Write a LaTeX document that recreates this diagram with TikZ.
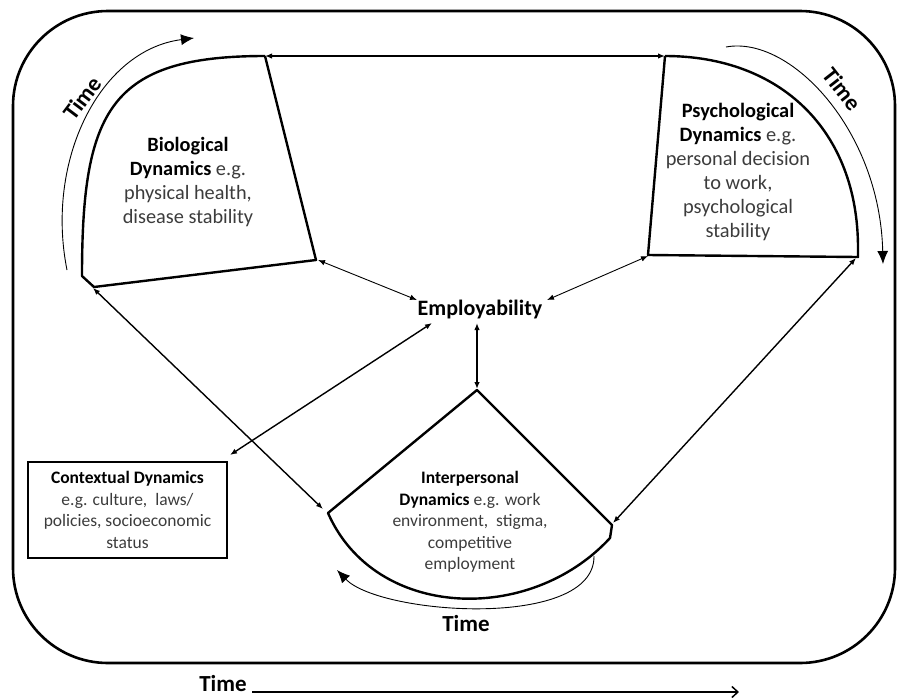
\documentclass[tikz,border=0pt]{standalone}
\usepackage{fontspec}
\setmainfont{Carlito}
\usetikzlibrary{arrows.meta}
\definecolor{txtgrey}{HTML}{3C3C3C}
\tikzset{
  region/.style={line width=2.4pt, line join=round},
  link/.style={line width=1.4pt, {Latex[length=7pt,width=5.5pt]}-{Latex[length=7pt,width=5.5pt]}},
  thinlink/.style={line width=0.9pt, {Latex[length=7pt,width=5.5pt]}-{Latex[length=7pt,width=5.5pt]}},
  timearc/.style={line width=0.9pt, -{Latex[length=13pt,width=11pt]}},
  lbl/.style={align=center, text=txtgrey, inner sep=0pt},
  timelbl/.style={font=\fontsize{23}{26}\selectfont\bfseries, inner sep=0pt},
}
\begin{document}
\begin{tikzpicture}[x=1pt,y=-1pt]
\useasboundingbox (0,0) rectangle (897,697);
% outer frame
\draw[line width=2.6pt, rounded corners=95pt] (13,11) rectangle (895,663);

% region corners
\coordinate (btr) at (265,56);
\coordinate (bbr) at (316,260);
\coordinate (bbl) at (94,287);
\coordinate (bk) at (82,276);
\coordinate (ptl) at (665,56);
\coordinate (pbl) at (648,255);
\coordinate (pbr) at (858,257);
\coordinate (pk) at (858,248);
\coordinate (itop) at (477,390);
\coordinate (ir) at (612,525);
\coordinate (ik) at (610,538);
\coordinate (il) at (328,513);

% regions
\draw[region] (btr) -- (bbr) -- (bbl) -- (bk) .. controls (82,110) and (110,56) .. (btr);
\draw[region] (ptl) -- (pbl) -- (pbr) -- (pk) .. controls (858,130) and (780,56) .. (ptl);
\draw[region] (itop) -- (ir) -- (ik) .. controls (530,625) and (375,620) .. (il) -- cycle;

% region texts
\node[lbl, font=\fontsize{20.3}{24}\selectfont] (bio) at (188,182)
  {\textcolor{black}{\bfseries Biological}\\\textcolor{black}{\bfseries Dynamics} e.g.\\physical health,\\disease stability};
\node[lbl, font=\fontsize{20.4}{24}\selectfont] (psy) at (738,172)
  {\textcolor{black}{\bfseries Psychological}\\\textcolor{black}{\bfseries Dynamics} e.g.\\personal decision\\to work,\\psychological\\stability};
\node[lbl, font=\fontsize{17.5}{21.5}\selectfont] (inter) at (470,522)
  {\textcolor{black}{\bfseries Interpersonal}\\\textcolor{black}{\bfseries Dynamics} e.g. work\\environment,\ \ stigma,\\competitive\\employment};
\node[draw, line width=1.8pt, minimum width=199pt, minimum height=96pt, lbl, font=\fontsize{17.5}{21.5}\selectfont] (ctx) at (127.5,510)
  {\textcolor{black}{\bfseries Contextual Dynamics}\\e.g. culture,\ \ laws/\\policies, socioeconomic\\status};
\node[font=\fontsize{22}{24}\selectfont\bfseries, inner sep=0pt] (emp) at (480,310) {Employability};

% connector end points near nodes
\coordinate (e1) at (417,300);
\coordinate (e2) at (547,300);
\coordinate (e3) at (477,323);
\coordinate (e4) at (432,323);
\coordinate (c1) at (230,455);
\coordinate (itip) at (477,389);
\coordinate (bt) at (318,260);
\coordinate (pt) at (648,256);
\coordinate (bl) at (93,288);
\coordinate (ilt) at (323,509);
\coordinate (prt) at (856,258);
\coordinate (irt) at (613,523);

% connectors
\draw[link] (btr) -- (ptl);
\draw[thinlink] (bt) -- (e1);
\draw[thinlink] (pt) -- (e2);
\draw[link] (e3) -- (itip);
\draw[link] (c1) -- (e4);
\draw[link] (bl) -- (ilt);
\draw[link] (prt) -- (irt);

% time arcs
\coordinate (ta1) at (67,270);
\coordinate (ta2) at (194,38);
\draw[timearc] (ta1) .. controls (45,160) and (100,50) .. (ta2);
\node[timelbl, rotate=53] (t1) at (82,98) {Time};

\coordinate (tb1) at (726,47);
\coordinate (tb2) at (883,264);
\draw[timearc] (tb1) .. controls (790,35) and (880,130) .. (tb2);
\node[timelbl, rotate=-52] (t2) at (842,89) {Time};

\coordinate (tc1) at (594,556);
\coordinate (tc2) at (337,570);
\draw[timearc] (tc1) .. controls (595,630) and (380,615) .. (tc2);
\node[timelbl] (t3) at (466,624) {Time};

% bottom time axis
\node[timelbl] (t4) at (223,684) {Time};
\coordinate (ax1) at (252,692);
\coordinate (ax2) at (739,692);
\draw[line width=1.5pt, -{Straight Barb[length=6pt,width=11pt]}] (ax1) -- (ax2);
\end{tikzpicture}
\end{document}
